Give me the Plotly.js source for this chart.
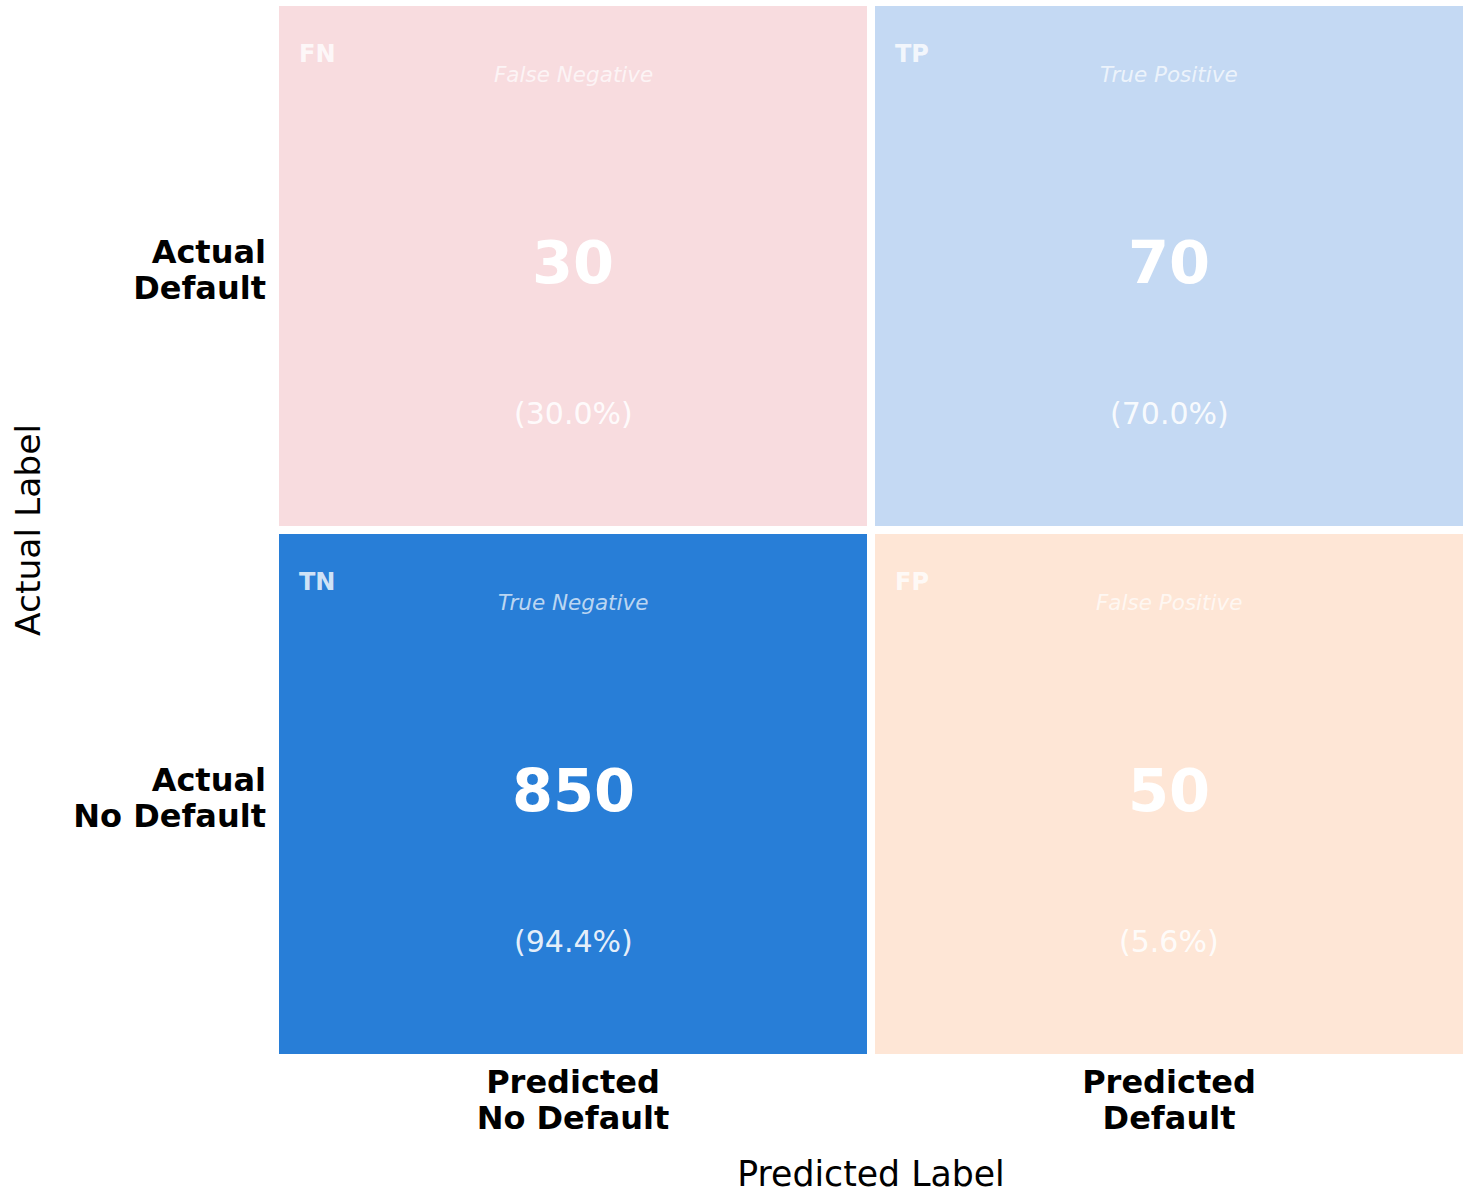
<!DOCTYPE html>
<html>
<head>
<meta charset="utf-8">
<script src="https://cdn.plot.ly/plotly-3.0.1.min.js"></script>
<style>html,body{margin:0;padding:0;background:#fff;}#chart{width:1473px;height:1194px;}</style>
</head>
<body>
<div id="chart"></div>
<script>
// ---- data ----
const predictedLabels = ['Predicted<br>No Default', 'Predicted<br>Default'];
const actualLabels = ['Actual<br>No Default', 'Actual<br>Default'];
// rows: actual (No Default, Default); columns: predicted (No Default, Default)
const counts = [[850, 50], [30, 70]];
const codes = [['TN', 'FP'], ['FN', 'TP']];
const descriptions = [['True Negative', 'False Positive'], ['False Negative', 'True Positive']];
const cellColors = [['#287ED7', '#FEE6D6'], ['#F8DCDF', '#C4D9F3']];

const FONT = 'DejaVu Sans, Verdana, sans-serif';

// colour index per cell and discrete colourscale
const flatColors = [];
const colorIndex = cellColors.map(row => row.map(c => { flatColors.push(c); return flatColors.length - 1; }));
const n = flatColors.length;
const colorscale = [];
flatColors.forEach((c, i) => {
  colorscale.push([i / n, c]);
  colorscale.push([(i + 1) / n, c]);
});

const xs = predictedLabels.map((_, i) => i);
const ys = actualLabels.map((_, i) => i);

const trace = {
  type: 'heatmap',
  x: xs,
  y: ys,
  z: colorIndex.map(r => r.map(v => v + 0.5)),
  zmin: 0, zmax: n,
  colorscale: colorscale,
  showscale: false,
  xgap: 8, ygap: 8,
  hoverinfo: 'skip'
};

const annotations = [];
ys.forEach(r => {
  const rowTotal = counts[r].reduce((a, b) => a + b, 0);
  xs.forEach(c => {
    const pct = (100 * counts[r][c] / rowTotal).toFixed(1);
    annotations.push({x: c - 0.463, y: r + 0.401, xref: 'x', yref: 'y', text: '<b>' + codes[r][c] + '</b>',
      showarrow: false, xanchor: 'left', yanchor: 'middle', font: {family: FONT, size: 24, color: 'rgba(255,255,255,0.8)'}});
    annotations.push({x: c, y: r + 0.362, xref: 'x', yref: 'y', text: '<i>' + descriptions[r][c] + '</i>',
      showarrow: false, xanchor: 'center', yanchor: 'middle', font: {family: FONT, size: 21.5, color: 'rgba(255,255,255,0.7)'}});
    annotations.push({x: c, y: r + 0.006, xref: 'x', yref: 'y', text: '<b>' + counts[r][c] + '</b>',
      showarrow: false, xanchor: 'center', yanchor: 'middle', font: {family: FONT, size: 59, color: '#ffffff'}});
    annotations.push({x: c, y: r - 0.28, xref: 'x', yref: 'y', text: '(' + pct + '%)',
      showarrow: false, xanchor: 'center', yanchor: 'middle', font: {family: FONT, size: 30, color: 'rgba(255,255,255,0.9)'}});
  });
});

const tickText = t => '<b><span style="font-size:32px">' + t.split('<br>').join('</span></b><br><b><span style="font-size:32px">') + '</span></b>';

const layout = {
  width: 1473, height: 1194,
  margin: {l: 275, r: 6, t: 2, b: 136, pad: 0},
  paper_bgcolor: '#ffffff', plot_bgcolor: '#ffffff',
  font: {family: FONT, color: '#000'},
  showlegend: false,
  xaxis: {
    range: [-0.5, 1.5], tickvals: xs, ticktext: predictedLabels.map(tickText),
    showgrid: false, zeroline: false, showline: false, ticks: '', fixedrange: true,
    ticklabelstandoff: 6,
    tickfont: {family: FONT, size: 28, color: '#000'},
    title: {text: 'Predicted Label', font: {family: FONT, size: 34.7, color: '#000'}, standoff: 31}
  },
  yaxis: {
    range: [-0.5, 1.5], tickvals: ys.map(v => v - 0.0095), ticktext: actualLabels.map(tickText),
    showgrid: false, zeroline: false, showline: false, ticks: '', fixedrange: true,
    ticklabelstandoff: 8,
    tickfont: {family: FONT, size: 28, color: '#000'},
    title: {text: 'Actual Label', font: {family: FONT, size: 34.5, color: '#000'}, standoff: 22}
  },
  annotations: annotations
};

Plotly.newPlot('chart', [trace], layout, {displayModeBar: false, staticPlot: true});
</script>
</body>
</html>
